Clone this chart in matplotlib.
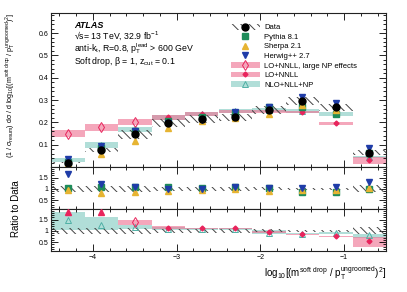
"""ATLAS soft drop mass distribution with MC and resummed calculations."""
import numpy as np
import matplotlib
matplotlib.use("Agg")
import matplotlib.pyplot as plt
from matplotlib.lines import Line2D
from matplotlib.patches import Patch
from matplotlib.ticker import MultipleLocator

plt.rcParams["font.family"] = ["Liberation Sans", "DejaVu Sans"]
plt.rcParams["mathtext.default"] = "regular"
plt.rcParams["hatch.linewidth"] = 0.7

# --- values ---
centers = np.array([-4.3, -3.9, -3.5, -3.1, -2.7, -2.3, -1.9, -1.5, -1.1, -0.7])
bin_width = 0.4

data_val = np.array([0.020, 0.075, 0.146, 0.195, 0.214, 0.222, 0.257, 0.297, 0.267, 0.064])
data_err = np.array([0.003, 0.010, 0.020, 0.018, 0.018, 0.017, 0.018, 0.017, 0.015, 0.010])

pythia_val = [0.022, 0.083, 0.160, 0.208, 0.225, 0.243, 0.268, 0.268, 0.238, 0.064]
sherpa_val = [0.018, 0.057, 0.118, 0.176, 0.205, 0.218, 0.236, 0.280, 0.255, 0.068]
herwig_val = [0.035, 0.092, 0.160, 0.196, 0.212, 0.245, 0.270, 0.312, 0.288, 0.083]

pythia_ratio = [1.05, 1.10, 1.10, 1.07, 1.05, 1.10, 1.05, 0.88, 0.88, 1.00]
sherpa_ratio = [0.95, 0.82, 0.86, 0.90, 0.95, 0.98, 0.92, 0.93, 0.95, 1.05]
herwig_ratio = [1.65, 1.20, 1.08, 1.00, 1.00, 1.10, 1.05, 1.05, 1.10, 1.30]

# NLO+NLL+NP, all bins
nlo_val = [0.030, 0.098, 0.169, 0.221, 0.237, 0.249, 0.256, 0.252, 0.237, 0.044]
nlo_lo = [0.021, 0.083, 0.158, 0.210, 0.228, 0.240, 0.246, 0.243, 0.228, 0.039]
nlo_hi = [0.039, 0.113, 0.180, 0.232, 0.247, 0.258, 0.266, 0.262, 0.247, 0.049]
nlo_ratio = [1.49, 1.26, 1.18, 1.10, 1.08, 1.08, 0.92, 0.88, 0.90, 0.80]
nlo_ratio_lo = [1.06, 1.03, 1.08, 1.05, 1.04, 1.04, 0.88, 0.84, 0.85, 0.68]
nlo_ratio_hi = [1.86, 1.64, 1.26, 1.18, 1.14, 1.13, 1.02, 0.92, 0.93, 0.84]

# LO+NNLL, large NP effects: first three bins
np_centers = centers[:3]
lonp_val = [0.150, 0.177, 0.200]
lonp_lo = [0.133, 0.162, 0.188]
lonp_hi = [0.168, 0.192, 0.217]
lonp_ratio = [7.50, 2.36, 1.41]
lonp_ratio_lo = [6.60, 2.16, 1.26]
lonp_ratio_hi = [8.40, 2.56, 1.49]

# LO+NNLL: remaining bins
nnll_centers = centers[3:]
nnll_val = [0.222, 0.238, 0.248, 0.250, 0.246, 0.195, 0.031]
nnll_lo = [0.212, 0.230, 0.241, 0.244, 0.240, 0.190, 0.013]
nnll_hi = [0.232, 0.246, 0.255, 0.256, 0.252, 0.200, 0.046]
nnll_ratio = [1.15, 1.11, 1.11, 0.95, 0.84, 0.76, 0.53]
nnll_ratio_lo = [1.10, 1.07, 1.07, 0.92, 0.81, 0.74, 0.27]
nnll_ratio_hi = [1.20, 1.15, 1.15, 0.98, 0.87, 0.79, 0.73]

# --- styles ---
c_pythia = "#1e8c5a"
c_sherpa = "#e6b432"
c_herwig = "#1f3ca8"
c_red = "#e8245c"
c_pink = "#ee6d8f"
c_teal = "#7ec8bf"
c_teal_edge = "#4fb0a5"
c_hatch = "#444444"
band_alpha = 0.6
hatch = "\\\\\\\\"
xlim = (-4.5, -0.5)
rlim = (0.1, 1.98)


def band(ax, x, lo, hi, color):
    lo = np.asarray(lo)
    hi = np.asarray(hi)
    ax.bar(x, hi - lo, bottom=lo, width=bin_width, color=color,
           alpha=band_alpha, linewidth=0, zorder=1)


def hatched(ax, x, lo, hi):
    ax.bar(x, hi - lo, bottom=lo, width=bin_width, facecolor="none",
           edgecolor=c_hatch, hatch=hatch, linewidth=0, zorder=2)


def style(ax, ymajor, yminor):
    ax.set_xlim(*xlim)
    ax.xaxis.set_major_locator(MultipleLocator(1))
    ax.xaxis.set_minor_locator(MultipleLocator(0.2))
    ax.yaxis.set_major_locator(MultipleLocator(ymajor))
    ax.yaxis.set_minor_locator(MultipleLocator(yminor))
    ax.tick_params(which="both", direction="in", top=True, right=True,
                   labelsize=5, width=0.6, pad=2)
    ax.tick_params(which="major", length=5)
    ax.tick_params(which="minor", length=2.5)
    for s in ax.spines.values():
        s.set_linewidth(0.8)
        s.set_color("#222222")


fig = plt.figure(figsize=(4.07, 2.92), dpi=100)
left, width = 51 / 407, 335 / 407
ax = fig.add_axes([left, 1 - 167 / 292, width, 154 / 292])
ax_r1 = fig.add_axes([left, 1 - 209 / 292, width, 42 / 292], sharex=ax)
ax_r2 = fig.add_axes([left, 1 - 251 / 292, width, 42 / 292], sharex=ax)

# === Main panel ===
band(ax, centers, nlo_lo, nlo_hi, c_teal)
band(ax, np_centers, lonp_lo, lonp_hi, c_pink)
band(ax, nnll_centers, nnll_lo, nnll_hi, c_pink)
hatched(ax, centers, data_val - data_err, data_val + data_err)
ax.plot(centers, nlo_val, "^", ms=5, mfc="none", mec=c_teal_edge, mew=0.7, zorder=3)
ax.plot(np_centers, lonp_val, "d", ms=5, mfc="none", mec=c_red, mew=0.7, zorder=3)
ax.plot(nnll_centers, nnll_val, "D", ms=2.5, color=c_red, zorder=3)
ax.plot(centers, pythia_val, "s", ms=4, color=c_pythia, zorder=4)
ax.plot(centers, sherpa_val, "^", ms=4.5, color=c_sherpa, zorder=4)
ax.plot(centers, herwig_val, "v", ms=4.5, color=c_herwig, zorder=4)
ax.plot(centers, data_val, "o", ms=5, color="black", zorder=5)

ax.set_ylim(0, 0.69)
style(ax, 0.1, 0.02)
ax.yaxis.set_major_formatter(plt.FuncFormatter(lambda v, p: "" if v < 0.05 else f"{v:.1f}"))
ax.tick_params(labelbottom=False)
ax.set_ylabel(r"(1 / $\sigma_{resum}$) d$\sigma$ / d log$_{10}$[(m$^{soft\ drop}$ / "
              r"p$_{T}^{ungroomed}$)$^{2}$]", fontsize=5.1, loc="top")
ax.yaxis.set_label_coords(-0.1, 1.0)

ax.text(0.069, 0.9, "ATLAS", transform=ax.transAxes, fontsize=6.5,
        fontweight="bold", fontstyle="italic")
ax.text(0.069, 0.83, r"√s= 13 TeV, 32.9 fb$^{-1}$", transform=ax.transAxes, fontsize=6.3)
ax.text(0.069, 0.75, r"anti-k$_{t}$, R=0.8, p$_{T}^{lead}$ > 600 GeV",
        transform=ax.transAxes, fontsize=6.3)
ax.text(0.069, 0.67, r"Soft drop, $\beta$ = 1, z$_{cut}$ = 0.1",
        transform=ax.transAxes, fontsize=6.3)

handles = [
    (Patch(facecolor="none", edgecolor=c_hatch, hatch=hatch, linewidth=0),
     Line2D([], [], ls="none", marker="o", ms=5, color="black")),
    Line2D([], [], ls="none", marker="s", ms=4, color=c_pythia),
    Line2D([], [], ls="none", marker="^", ms=4.5, color=c_sherpa),
    Line2D([], [], ls="none", marker="v", ms=4.5, color=c_herwig),
    (Patch(facecolor=c_pink, alpha=band_alpha, linewidth=0),
     Line2D([], [], ls="none", marker="d", ms=5, mfc="none", mec=c_red, mew=0.7)),
    (Patch(facecolor=c_pink, alpha=band_alpha, linewidth=0),
     Line2D([], [], ls="none", marker="D", ms=2.5, color=c_red)),
    (Patch(facecolor=c_teal, alpha=band_alpha, linewidth=0),
     Line2D([], [], ls="none", marker="^", ms=5, mfc="none", mec=c_teal_edge, mew=0.7)),
]
labels = ["Data", "Pythia 8.1", "Sherpa 2.1", "Herwig++ 2.7",
          "LO+NNLL, large NP effects", "LO+NNLL", "NLO+NLL+NP"]
ax.legend(handles, labels, loc="upper left", bbox_to_anchor=(0.525, 0.955),
          frameon=False, fontsize=5.5, handlelength=3.8, handleheight=0.8,
          labelspacing=0.26, handletextpad=0.6, borderpad=0)

# === Ratio: MC / data ===
rel = data_err / data_val
hatched(ax_r1, centers, 1 - rel, 1 + rel)
ax_r1.plot(centers, pythia_ratio, "s", ms=4, color=c_pythia, zorder=4)
ax_r1.plot(centers, sherpa_ratio, "^", ms=4.5, color=c_sherpa, zorder=4)
ax_r1.plot(centers, herwig_ratio, "v", ms=4.5, color=c_herwig, zorder=4)
ax_r1.set_ylim(*rlim)
style(ax_r1, 0.5, 0.1)
ax_r1.yaxis.set_major_formatter(plt.FuncFormatter(lambda v, p: f"{v:g}" if 0.2 < v < 1.9 else ""))
ax_r1.tick_params(labelbottom=False)

# === Ratio: calculations / data ===
band(ax_r2, centers, nlo_ratio_lo, nlo_ratio_hi, c_teal)
band(ax_r2, np_centers, lonp_ratio_lo, lonp_ratio_hi, c_pink)
band(ax_r2, nnll_centers, nnll_ratio_lo, nnll_ratio_hi, c_pink)
hatched(ax_r2, centers, 1 - rel, 1 + rel)
ax_r2.plot(centers, nlo_ratio, "^", ms=5, mfc="none", mec=c_teal_edge, mew=0.7, zorder=3)
lonp_ratio = np.array(lonp_ratio)
inside = lonp_ratio < rlim[1]
ax_r2.plot(np_centers[inside], lonp_ratio[inside], "d", ms=5, mfc="none",
           mec=c_red, mew=0.7, zorder=3)
# off-scale points shown as arrows at the top of the panel
ax_r2.plot(np_centers[~inside], np.full((~inside).sum(), rlim[1] - 0.12), "^",
           ms=4, color=c_red, zorder=3)
ax_r2.plot(nnll_centers, nnll_ratio, "D", ms=2.5, color=c_red, zorder=3)
ax_r2.set_ylim(*rlim)
style(ax_r2, 0.5, 0.1)
ax_r2.yaxis.set_major_formatter(plt.FuncFormatter(lambda v, p: f"{v:g}" if 0.2 < v < 1.9 else ""))
ax_r2.set_xlabel(r"log$_{10}$[(m$^{soft\ drop}$ / p$_{T}^{ungroomed}$)$^{2}$]",
                 fontsize=7, loc="right", labelpad=2.5)

fig.text(16 / 407, 1 - 209 / 292, "Ratio to Data", rotation=90,
         ha="center", va="center", fontsize=7)

fig.savefig("out.png", dpi=100)
